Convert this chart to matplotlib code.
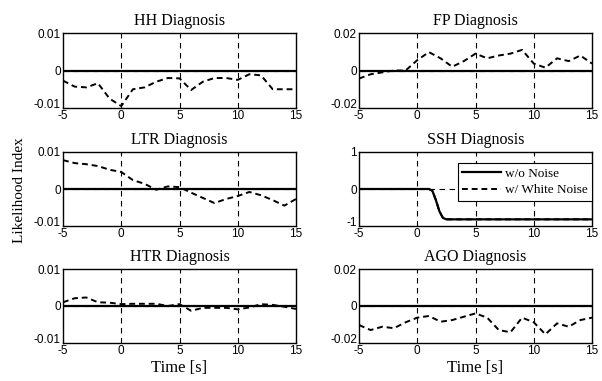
import numpy as np
import matplotlib.pyplot as plt
import matplotlib.transforms as mtransforms

# time base (s) for the noisy traces, read at roughly 1 s steps
t = [-5, -4, -3, -2, -1, 0, 1, 2, 3, 4, 5, 6, 7, 8, 9, 10, 11, 12, 13, 14, 15]

hh_noise = [-0.0027, -0.0043, -0.0045, -0.0034, -0.0075, -0.0095, -0.0050,
            -0.0045, -0.0030, -0.0020, -0.0021, -0.0052, -0.0030, -0.0020,
            -0.0020, -0.0025, -0.0010, -0.0013, -0.0050, -0.0050, -0.0050]
fp_noise = [-0.0043, -0.0020, -0.0010, 0.0000, 0.0000, 0.0055, 0.0098,
            0.0065, 0.0020, 0.0050, 0.0090, 0.0065, 0.0080, 0.0090, 0.0110,
            0.0037, 0.0015, 0.0065, 0.0050, 0.0080, 0.0037]
ltr_noise = [0.0078, 0.0070, 0.0067, 0.0062, 0.0052, 0.0046, 0.0024, 0.0014,
             -0.0002, 0.0007, 0.0005, -0.0010, -0.0024, -0.0038, -0.0027,
             -0.0019, -0.0008, -0.0017, -0.0030, -0.0045, -0.0027]
htr_noise = [0.0010, 0.0021, 0.0023, 0.0010, 0.0009, 0.0005, 0.0006, 0.0006,
             0.0006, 0.0000, 0.0005, -0.0013, -0.0005, -0.0005, -0.0005,
             -0.0009, -0.0004, 0.0005, 0.0003, -0.0002, -0.0008]
ago_noise = [-0.0103, -0.0130, -0.0112, -0.0120, -0.0088, -0.0063, -0.0054,
             -0.0085, -0.0076, -0.0058, -0.0040, -0.0063, -0.0130, -0.0142,
             -0.0063, -0.0088, -0.0153, -0.0094, -0.0112, -0.0076, -0.0063]

# SSH: both traces follow the same step
t_ssh = [-5, 0, 1.0, 1.3, 1.6, 1.9, 2.2, 2.5, 5, 10, 15]
ssh_clean = [0, 0, 0, -0.05, -0.30, -0.60, -0.78, -0.82, -0.82, -0.82, -0.82]
ssh_noise = ssh_clean

titles = ['HH Diagnosis', 'FP Diagnosis', 'LTR Diagnosis',
          'SSH Diagnosis', 'HTR Diagnosis', 'AGO Diagnosis']
ylims = [0.01, 0.02, 0.01, 1, 0.01, 0.02]
ytick_labels = [['-0.01', '0', '0.01'], ['-0.02', '0', '0.02'],
                ['-0.01', '0', '0.01'], ['-1', '0', '1'],
                ['-0.01', '0', '0.01'], ['-0.02', '0', '0.02']]

serif = 'Liberation Serif'
sans = 'Liberation Sans'

fig = plt.figure(figsize=(6.02, 3.81), dpi=100)
W, H = 602.0, 381.0
lefts = [63, 359]
width = 233
rows = [(33, 108), (152, 226), (269, 343)]

axes = []
for i in range(6):
    r, c = divmod(i, 2)
    top, bot = rows[r]
    ax = fig.add_axes([lefts[c] / W, 1 - bot / H, width / W, (bot - top) / H])
    axes.append(ax)

series = [(t, hh_noise), (t, fp_noise), (t, ltr_noise),
          (t_ssh, ssh_noise), (t, htr_noise), (t, ago_noise)]

# lift the lowest y label a little, as in the original figure
lift = mtransforms.ScaledTranslation(0, 3 / 72, fig.dpi_scale_trans)

for i, ax in enumerate(axes):
    lim = ylims[i]
    ticks = [-lim, 0, lim]
    # dashed grid lines
    for x in [0, 5, 10]:
        ax.axvline(x, color='black', lw=0.8, dashes=(5, 4), zorder=1)
    ax.axhline(0, color='black', lw=0.8, dashes=(5, 4), zorder=1)

    tx, ny = series[i]
    if i == 3:
        ax.plot(t_ssh, ssh_clean, color='black', lw=1.6, label='w/o Noise',
                zorder=3)
    else:
        ax.plot([t[0], t[-1]], [0, 0], color='black', lw=1.6,
                label='w/o Noise', zorder=3)
    ax.plot(tx, ny, color='black', lw=1.4, dashes=(3, 2),
            label='w/ White Noise', zorder=4)

    ax.set_xlim(-5, 15)
    ax.set_ylim(-lim, lim)
    ax.set_xticks([-5, 0, 5, 10, 15])
    ax.set_xticklabels(['-5', '0', '5', '10', '15'], fontfamily=sans,
                       fontsize=8.5)
    ax.set_yticks(ticks)
    ax.set_yticklabels(ytick_labels[i], fontfamily=sans, fontsize=8.5)
    ax.tick_params(direction='in', length=2, width=0.6, pad=1.5,
                   top=True, right=True)
    low = ax.get_yticklabels()[0]
    low.set_transform(low.get_transform() + lift)
    for s in ax.spines.values():
        s.set_linewidth(1.0)
    ax.set_title(titles[i], fontfamily=serif, fontsize=11.5, pad=6)

    if i == 3:
        leg = ax.legend(loc='upper right', prop={'family': serif,
                                                 'size': 9.5},
                        fancybox=False, framealpha=1,
                        edgecolor='black', handlelength=2.9,
                        borderaxespad=0.0, labelspacing=0.3,
                        borderpad=0.35, handletextpad=0.3)
        leg.get_frame().set_linewidth(0.8)
        leg.set_bbox_to_anchor((1.0, 0.85), transform=ax.transAxes)

for ax in axes[4:]:
    ax.set_xlabel('Time [s]', fontfamily=serif, fontsize=12, labelpad=2)

fig.text(20 / W, 1 - 190 / H, 'Likelihood Index', rotation=90,
         fontfamily=serif, fontsize=11, ha='center', va='center')

fig.savefig('out.png', dpi=100)
